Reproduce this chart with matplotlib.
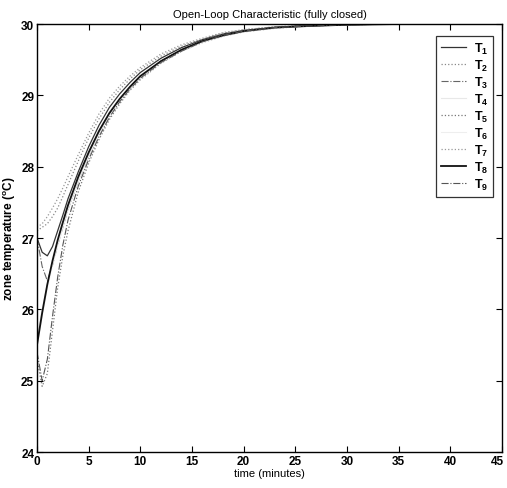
import matplotlib
matplotlib.use("Agg")
import matplotlib.pyplot as plt
from matplotlib.transforms import ScaledTranslation

plt.rcParams['font.family'] = ['Liberation Sans', 'DejaVu Sans']
plt.rcParams['mathtext.fontset'] = 'custom'
plt.rcParams['mathtext.rm'] = 'Liberation Sans'

t = [0, 0.5, 1, 1.5, 2, 2.5, 3, 4, 5, 6, 7, 8, 9, 10, 12, 14, 16, 18, 20, 23, 26, 30, 35, 40, 45]

T1 = [27.0, 26.8, 26.75, 26.88, 27.1, 27.32, 27.55, 27.93, 28.28, 28.58, 28.83, 29.02, 29.18, 29.32, 29.52, 29.67, 29.78, 29.86, 29.91, 29.95, 29.98, 29.99, 30.0, 30.0, 30.0]
T2 = [27.1, 27.15, 27.2, 27.3, 27.42, 27.58, 27.75, 28.08, 28.4, 28.67, 28.9, 29.08, 29.23, 29.36, 29.55, 29.69, 29.79, 29.87, 29.92, 29.96, 29.98, 29.99, 30.0, 30.0, 30.0]
T3 = [27.0, 26.6, 26.4, 26.62, 26.9, 27.15, 27.4, 27.8, 28.15, 28.46, 28.73, 28.94, 29.11, 29.26, 29.48, 29.64, 29.76, 29.84, 29.9, 29.95, 29.97, 29.99, 30.0, 30.0, 30.0]
T4 = [25.6, 26.0, 26.35, 26.65, 26.93, 27.18, 27.42, 27.82, 28.17, 28.47, 28.72, 28.93, 29.1, 29.25, 29.47, 29.63, 29.75, 29.83, 29.89, 29.94, 29.97, 29.99, 30.0, 30.0, 30.0]
T5 = [25.3, 24.92, 25.1, 25.7, 26.3, 26.75, 27.1, 27.65, 28.05, 28.38, 28.66, 28.88, 29.07, 29.22, 29.45, 29.62, 29.74, 29.83, 29.89, 29.94, 29.97, 29.99, 30.0, 30.0, 30.0]
T6 = [25.5, 25.9, 26.3, 26.62, 26.9, 27.15, 27.4, 27.8, 28.15, 28.45, 28.71, 28.92, 29.09, 29.24, 29.46, 29.62, 29.74, 29.83, 29.89, 29.94, 29.97, 29.99, 30.0, 30.0, 30.0]
T7 = [27.15, 27.2, 27.3, 27.42, 27.55, 27.7, 27.86, 28.17, 28.47, 28.74, 28.96, 29.13, 29.27, 29.39, 29.58, 29.71, 29.8, 29.88, 29.92, 29.96, 29.98, 29.99, 30.0, 30.0, 30.0]
T8 = [25.5, 25.95, 26.35, 26.68, 26.97, 27.22, 27.46, 27.86, 28.2, 28.5, 28.75, 28.95, 29.12, 29.27, 29.48, 29.64, 29.76, 29.84, 29.9, 29.95, 29.97, 29.99, 30.0, 30.0, 30.0]
T9 = [25.4, 25.0, 25.3, 25.9, 26.45, 26.9, 27.25, 27.73, 28.1, 28.42, 28.69, 28.91, 29.09, 29.24, 29.46, 29.62, 29.75, 29.84, 29.9, 29.95, 29.97, 29.99, 30.0, 30.0, 30.0]

series = [T1, T2, T3, T4, T5, T6, T7, T8, T9]
labels = [r'$\mathregular{T_{%d}}$' % i for i in range(1, 10)]
styles = [
    dict(color='#333333', ls='-', lw=0.9),
    dict(color='#888888', ls=':', lw=0.9),
    dict(color='#666666', ls='-.', lw=0.8),
    dict(color='#e8e8e8', ls='-', lw=0.8),
    dict(color='#777777', ls=':', lw=0.9),
    dict(color='#eeeeee', ls='-', lw=0.8),
    dict(color='#999999', ls=':', lw=0.9),
    dict(color='#111111', ls='-', lw=1.3),
    dict(color='#555555', ls='-.', lw=0.8),
]

fig = plt.figure(figsize=(5.07, 4.89), dpi=100)
ax = fig.add_axes([37/507, 1-453/489, (502-37)/507, (453-25)/489])

for y, lab, st in zip(series, labels, styles):
    ax.plot(t, y, label=lab, **st)

ax.set_xlim(0, 45)
ax.set_ylim(24, 30)
ax.set_xticks(range(0, 46, 5))
ax.set_yticks(range(24, 31))
ax.tick_params(direction='in', top=True, right=True, length=4, width=0.8,
               labelsize=8.5, pad=2)
for lab in ax.get_xticklabels() + ax.get_yticklabels():
    lab.set_fontweight('bold')
last = ax.get_xticklabels()[-1]
last.set_transform(last.get_transform() + ScaledTranslation(-3/72, 0, fig.dpi_scale_trans))
for s in ax.spines.values():
    s.set_linewidth(1.0)
    s.set_color('black')

ax.set_title('Open-Loop Characteristic (fully closed)', fontsize=8, pad=5)
ax.set_xlabel('time (minutes)', fontsize=8, labelpad=1)
ax.set_ylabel(r'zone temperature ($\mathregular{^oC}$)', fontsize=8.5, labelpad=2,
              fontweight='bold')

leg = ax.legend(loc='upper right', bbox_to_anchor=(0.995, 0.987), fontsize=9,
                frameon=True, fancybox=False, handlelength=2.0, labelspacing=0.15,
                borderpad=0.4, handletextpad=0.6, edgecolor='black')
leg.get_frame().set_linewidth(0.9)
for txt in leg.get_texts():
    txt.set_fontweight('bold')

fig.savefig('out.png', dpi=100)
